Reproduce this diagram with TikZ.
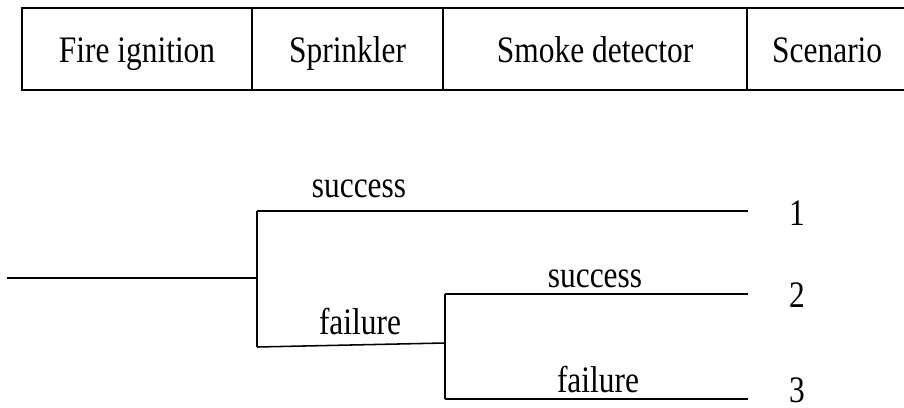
\documentclass[tikz,border=0pt]{standalone}
\usepackage{fontspec}
\setmainfont{Liberation Serif}[FakeStretch=0.84]
\usetikzlibrary{positioning}

\begin{document}
\begin{tikzpicture}[x=0.025cm,y=-0.025cm,line width=1.1pt,
  font=\fontsize{26.6}{30}\selectfont,
  cell/.style={draw,line width=1.3pt,minimum height=2.05cm,inner sep=0pt,outer sep=0pt,
    text height=22pt,text depth=3pt},
  lbl/.style={anchor=base,inner sep=0pt}]
  \useasboundingbox (0,0) rectangle (904,408);
  % cabecera de la tabla
  \node[cell,minimum width=5.75cm,anchor=north west] (fire) at (22,8) {Fire ignition};
  \node[cell,minimum width=4.775cm,right=0pt of fire] (sprink) {Sprinkler};
  \node[cell,minimum width=7.6cm,right=0pt of sprink] (smoke) {Smoke detector};
  \node[cell,minimum width=4cm,right=0pt of smoke] (scen) {Scenario};
  % puntos del arbol
  \coordinate (root) at (7,278);
  \coordinate (b1) at (257,278);
  \coordinate (b1s) at (257,211);
  \coordinate (b1f) at (257,347);
  \coordinate (b2) at (445,343);
  \coordinate (b2s) at (445,294);
  \coordinate (b2f) at (445,399);
  \coordinate (e1) at (748,211);
  \coordinate (e2) at (748,294);
  \coordinate (e3) at (748,399);
  % ramas
  \draw (root)--(b1);
  \draw (b1s)--(b1f);
  \draw (b1s)--(e1);
  \draw (b1f)--(b2);
  \draw (b2s)--(b2f);
  \draw (b2s)--(e2);
  \draw (b2f)--(e3);
  % etiquetas
  \node[lbl] (s1) at (359,197){success};
  \node[lbl] (f1) at (360,334){failure};
  \node[lbl] (s2) at (595,287){success};
  \node[lbl] (f2) at (598,392){failure};
  % escenarios
  \node[lbl] (n1) at (797,225){1};
  \node[lbl] (n2) at (797,307){2};
  \node[lbl] (n3) at (797,402){3};
\end{tikzpicture}
\end{document}
